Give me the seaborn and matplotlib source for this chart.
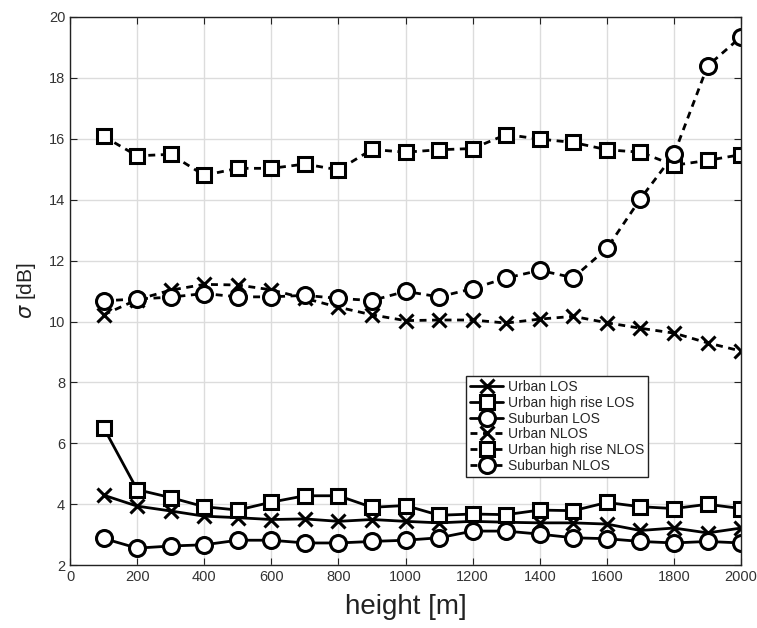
import matplotlib
matplotlib.use("Agg")
import matplotlib.pyplot as plt
import seaborn as sns
import numpy as np

heights = [100, 200, 300, 400, 500, 600, 700, 800, 900, 1000,
           1100, 1200, 1300, 1400, 1500, 1600, 1700, 1800, 1900, 2000]

urban_los = [4.3, 3.94, 3.78, 3.61, 3.56, 3.5, 3.52, 3.44, 3.5, 3.44,
             3.39, 3.44, 3.41, 3.39, 3.39, 3.35, 3.14, 3.22, 3.06, 3.22]
urban_hr_los = [6.52, 4.48, 4.22, 3.92, 3.81, 4.07, 4.28, 4.28, 3.9, 3.96,
                3.64, 3.68, 3.66, 3.81, 3.79, 4.06, 3.92, 3.86, 4.0, 3.86]
suburban_los = [2.88, 2.56, 2.63, 2.67, 2.82, 2.82, 2.73, 2.73, 2.78, 2.82,
                2.9, 3.12, 3.12, 3.02, 2.9, 2.87, 2.78, 2.73, 2.78, 2.73]
urban_nlos = [10.22, 10.72, 11.03, 11.22, 11.2, 11.04, 10.76, 10.47, 10.22, 10.03,
              10.05, 10.05, 9.95, 10.08, 10.17, 9.96, 9.78, 9.62, 9.3, 9.03]
urban_hr_nlos = [16.08, 15.44, 15.49, 14.8, 15.03, 15.03, 15.17, 14.98, 15.65, 15.56,
                 15.64, 15.68, 16.14, 15.99, 15.88, 15.64, 15.56, 15.13, 15.29, 15.48]
suburban_nlos = [10.68, 10.74, 10.8, 10.92, 10.81, 10.81, 10.86, 10.76, 10.69, 10.99,
                 10.81, 11.08, 11.43, 11.68, 11.44, 12.4, 14.03, 15.49, 18.39, 19.35]

labels = ["Urban LOS", "Urban high rise LOS", "Suburban LOS",
          "Urban NLOS", "Urban high rise NLOS", "Suburban NLOS"]
series = [urban_los, urban_hr_los, suburban_los, urban_nlos, urban_hr_nlos, suburban_nlos]
markers = ["x", "s", "o", "x", "s", "o"]
styles = ["-", "-", "-", "--", "--", "--"]
msizes = [10, 10, 11.5, 10, 10, 11.5]

sns.set_style("white")
plt.rcParams['font.family'] = ['Liberation Sans', 'DejaVu Sans']

fig = plt.figure(figsize=(7.57, 6.28), dpi=100)
ax = fig.add_axes([0.0925, 0.1, 0.8865, 0.873])

for vals, lab, mk, ls, ms in zip(series, labels, markers, styles, msizes):
    sns.lineplot(x=heights, y=vals, ax=ax, color="black", linestyle=ls, linewidth=2,
                 marker=mk, markersize=ms, markerfacecolor="white",
                 markeredgecolor="black", markeredgewidth=2.2, label=lab)
    ax.lines[-1].set_linestyle(ls)
    if ls == "--":
        ax.lines[-1].set_dashes([4, 3])

ax.set_xlim(0, 2000)
ax.set_ylim(2, 20)
ax.set_xticks(np.arange(0, 2001, 200))
ax.set_yticks(np.arange(2, 21, 2))
ax.grid(True, color="#dcdcdc", linewidth=1)
ax.set_axisbelow(True)
for s in ax.spines.values():
    s.set_color("#222222")
    s.set_linewidth(1)
ax.tick_params(direction="in", length=5, color="#222222", labelsize=10.5,
               labelcolor="#333333", top=True, right=True, bottom=True, left=True)
ax.set_xlabel("height [m]", fontsize=20, color="#222222", labelpad=7)
ax.set_ylabel(r"$\sigma$ [dB]", fontsize=15, color="#222222", labelpad=8)

handles, labs = ax.get_legend_handles_labels()
for h, ls in zip(handles, styles):
    h.set_linestyle(ls)
    if ls == "--":
        h.set_dashes([2.5, 2])
leg = ax.legend(handles, labs, loc="upper left", bbox_to_anchor=(0.59, 0.345),
                borderaxespad=0, fontsize=10, frameon=True, fancybox=False,
                edgecolor="#222222", borderpad=0.3, labelspacing=0.12,
                handlelength=2.4, handletextpad=0.3, framealpha=1)
leg.get_frame().set_linewidth(1)

fig.savefig("out.png", dpi=100)
